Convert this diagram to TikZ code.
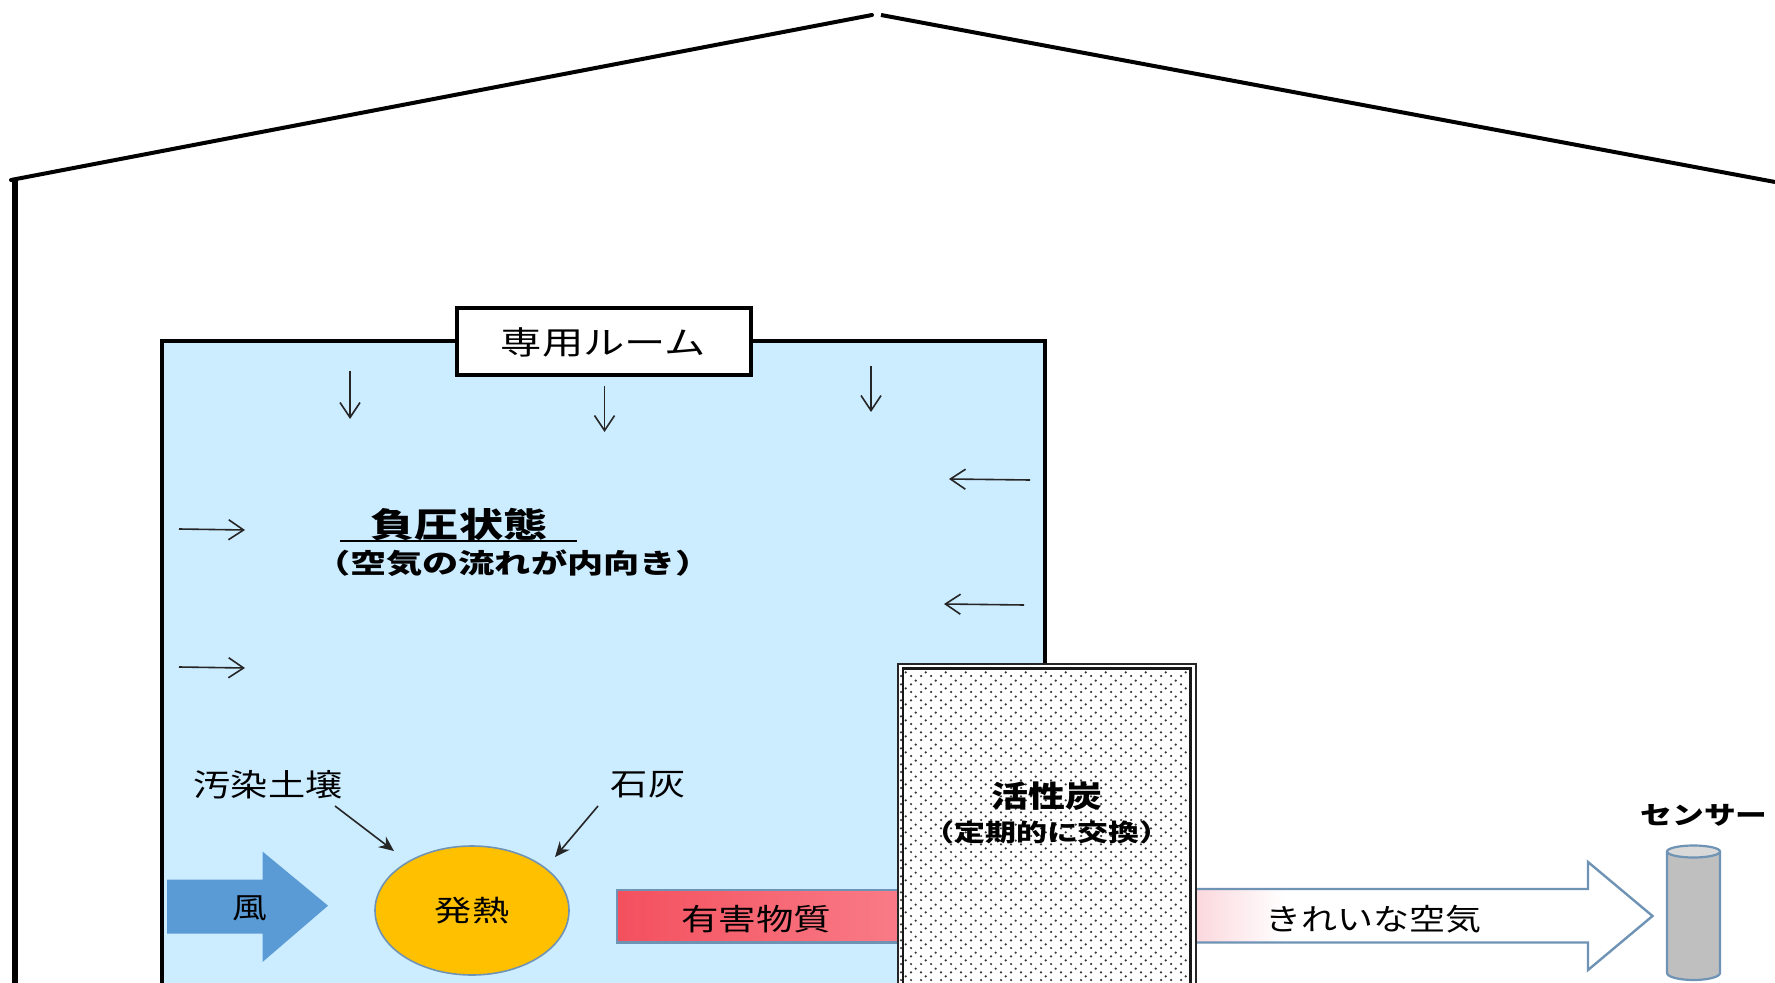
\documentclass[tikz,border=0pt]{standalone}
\usepackage{fontspec}
\usepackage{graphicx}
\usepackage{tikz}
\usetikzlibrary{arrows.meta,shapes.geometric}
\setmainfont{Noto Sans CJK JP}
\definecolor{roomblue}{HTML}{CCECFF}
\definecolor{edgeblue}{HTML}{6F93B5}
\definecolor{windblue}{HTML}{5B9BD5}
\definecolor{heatgold}{HTML}{FFC000}
\definecolor{toxicA}{HTML}{F4505E}
\definecolor{toxicB}{HTML}{F97C88}
\definecolor{pinkA}{HTML}{FBD8DD}
\newcommand\stretchtxt[3]{{\fontsize{#1}{#1}\selectfont\scalebox{#2}[1]{#3}}}
\newcommand\stretchbold[3]{{\fontsize{#1}{#1}\selectfont\bfseries\scalebox{#2}[1]{#3}}}
\tikzset{
  x=0.5pt,y=-0.5pt,
  wall/.style={line width=2pt,draw=black},
  flow/.style={line width=0.8pt,draw=black!85,-{Straight Barb[length=7.5pt,width=10pt,line width=0.8pt]}},
  pointer/.style={line width=0.8pt,draw=black!85,-{Stealth[length=7.5pt,width=6.5pt]}},
  lbl/.style={inner sep=0pt},
}
\begin{document}
\begin{tikzpicture}
\useasboundingbox (0,0) rectangle (1775,983);
% roof and wall
\coordinate (wallfoot) at (15,983);
\coordinate (walltop) at (15,180);
\coordinate (eaveL) at (11,180);
\coordinate (apexL) at (872,15);
\coordinate (apexR) at (881,15);
\coordinate (eaveR) at (1775,182);
\draw[wall,line width=2.8pt] (wallfoot) -- (walltop);
\draw[wall,line cap=round] (eaveL) -- (apexL);
\draw[wall] (apexR) -- (eaveR);
% room
\draw[wall,fill=roomblue] (162,990) -- (162,341) -- (1045,341) -- (1045,990);
\node[draw=black,line width=2pt,fill=white,minimum width=147pt,minimum height=33.5pt,inner sep=0pt] (label) at (603.5,342) {\stretchtxt{16pt}{1.29}{専用ルーム}};
% air flow arrows
\coordinate (d1a) at (350,371); \coordinate (d1b) at (350,419);
\coordinate (d2a) at (604.5,386); \coordinate (d2b) at (604.5,432);
\coordinate (d3a) at (871,366); \coordinate (d3b) at (871,412);
\coordinate (l1a) at (1030,480); \coordinate (l1b) at (949,479);
\coordinate (l2a) at (1024,605); \coordinate (l2b) at (944,604);
\coordinate (r1a) at (179,529); \coordinate (r1b) at (245,530);
\coordinate (r2a) at (179,667); \coordinate (r2b) at (245,668);
\foreach \a/\b in {d1a/d1b,d2a/d2b,d3a/d3b,l1a/l1b,l2a/l2b,r1a/r1b,r2a/r2b}
  \draw[flow] (\a) -- (\b);
% title
\node[lbl] (title) at (459,525) {\stretchbold{17pt}{1.3}{負圧状態}};
\coordinate (ulA) at (340,541); \coordinate (ulB) at (577,541);
\draw[line width=0.9pt] (ulA) -- (ulB);
\node[lbl] (subtitle) at (513,563) {\stretchbold{13.5pt}{1.34}{（空気の流れが内向き）}};
% inputs
\node[lbl] (soil) at (268,785) {\stretchtxt{15.5pt}{1.2}{汚染土壌}};
\node[lbl] (lime) at (648,785) {\stretchtxt{15.5pt}{1.2}{石灰}};
\node[draw=edgeblue,line width=0.8pt,fill=heatgold,ellipse,minimum width=97pt,minimum height=64.5pt,inner sep=0pt] (heat) at (472,910.5) {\stretchtxt{14.5pt}{1.28}{発熱}};
\coordinate (soilS) at (335,806); \coordinate (soilE) at (394,851);
\coordinate (limeS) at (598,806); \coordinate (limeE) at (555,857);
\draw[pointer] (soilS) -- (soilE);
\draw[pointer] (limeS) -- (limeE);
% wind
\fill[windblue] (167,879.5) -- (262.5,879.5) -- (262.5,851.5) -- (328,905.7) -- (262.5,962) -- (262.5,933.5) -- (167,933.5) -- cycle;
\node[lbl] (wind) at (250,908) {\stretchtxt{14.5pt}{1.2}{風}};
% toxic stream
\draw[edgeblue,line width=1.2pt,left color=toxicA,right color=toxicB,shading angle=90] (617,890) rectangle (905,942.5);
\node[lbl] (toxic) at (756,919) {\stretchtxt{15pt}{1.25}{有害物質}};
% clean air
\fill[white] (1196,889) -- (1588,889) -- (1588,862) -- (1652.5,916) -- (1588,970) -- (1588,942.5) -- (1196,942.5) -- cycle;
\shade[left color=pinkA,right color=white] (1196,889) rectangle (1285,942.5);
\draw[edgeblue,line width=1.2pt] (1190,889) -- (1588,889) -- (1588,862) -- (1652.5,916) -- (1588,970) -- (1588,942.5) -- (1190,942.5);
\node[lbl] (clean) at (1373,919) {\stretchtxt{15pt}{1.2}{きれいな空気}};
% filter
\fill[white] (898,664) rectangle (1196,990);
\begin{scope}
\clip (899,669) rectangle (1189,990);
\foreach \r in {0,...,39}{
  \pgfmathsetmacro{\ya}{672.3+16*\r}
  \pgfmathsetmacro{\yb}{676+16*\r}
  \pgfmathsetmacro{\yc}{680.7+16*\r}
  \pgfmathsetmacro{\yd}{684.3+16*\r}
  \foreach \c in {0,...,14}{
    \fill[black!78] ({905.7+20*\c},\ya) circle[radius=0.62pt];
    \fill[black!78] ({915.7+20*\c},\yc) circle[radius=0.62pt];
  }
  \foreach \c in {0,...,29}{
    \fill[black!78] ({901+10*\c},\yb) circle[radius=0.62pt];
    \fill[black!78] ({901+10*\c},\yd) circle[radius=0.62pt];
  }
}
\end{scope}
\draw[black!85,line width=0.8pt] (898,990) -- (898,664) -- (1196,664) -- (1196,990);
\draw[black!90,line width=1.1pt] (903,990) -- (903,668.5) -- (1190.5,668.5) -- (1190.5,990);
\node[lbl] (carbon) at (1047,796) {\stretchbold{15pt}{1.23}{活性炭}};
\node[lbl] (carbonsub) at (1047,832) {\stretchbold{12pt}{1.29}{（定期的に交換）}};
% sensor
\node[lbl] (sensorlabel) at (1704,815) {\stretchbold{12.5pt}{1.27}{センサー}};
\draw[draw=edgeblue,line width=1.1pt,fill=black!25] (1667,851.5) -- (1667,973) arc[start angle=180,end angle=0,x radius=26.5,y radius=7] -- (1720,851.5);
\draw[draw=edgeblue,line width=1.1pt,fill=black!15] (1693.5,851.5) ellipse[x radius=26.5,y radius=6];
\end{tikzpicture}
\end{document}
